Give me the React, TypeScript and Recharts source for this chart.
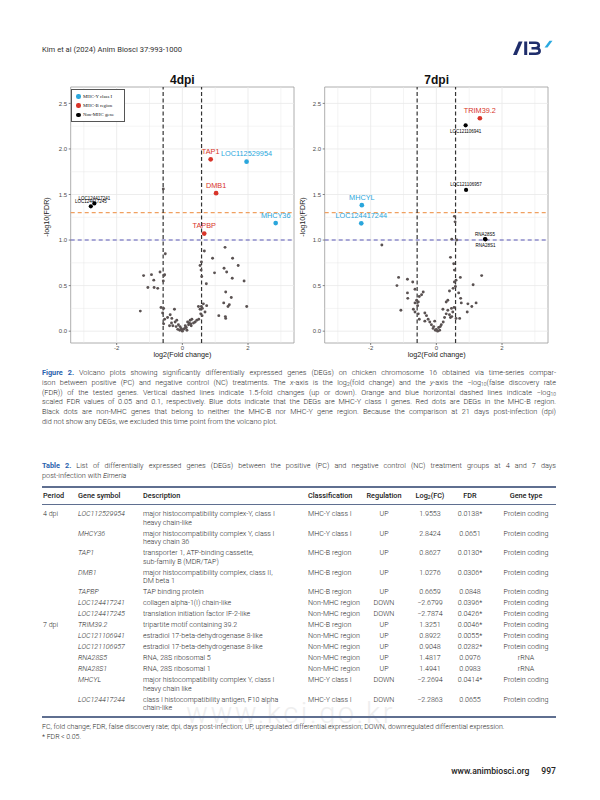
import React from 'react';
import { ScatterChart, Scatter, XAxis, YAxis, ReferenceLine, ReferenceArea } from 'recharts';

const BODY = 'Roboto, "Noto Sans", sans-serif';
const PLOT_FONT = '"Liberation Sans", Arial, sans-serif';
const C_MHCY = '#2AA6DC';
const C_MHCB = '#D8352A';
const C_NON = '#000000';
const C_BG = '#5a5252';
const C_LINK = '#2a62ad';
const C_TEXT = '#2a2a2a';
const C_RULE = '#5f6f90';

// ---------- DEGs at 4 dpi (Table 2) ----------
const deg4Symbols = ['LOC112529954', 'MHCY36', 'TAP1', 'DMB1', 'TAPBP', 'LOC124417241', 'LOC124417245'];
const deg4LogFC = [1.9553, 2.8424, 0.8627, 1.0276, 0.6659, -2.6799, -2.7874];
const deg4FDR = [0.0138, 0.0651, 0.013, 0.0306, 0.0848, 0.0396, 0.0426];
const deg4Class = ['MHC-Y class I', 'MHC-Y class I', 'MHC-B region', 'MHC-B region', 'MHC-B region', 'Non-MHC region', 'Non-MHC region'];
const deg4Type = ['Protein coding', 'Protein coding', 'Protein coding', 'Protein coding', 'Protein coding', 'Protein coding', 'Protein coding'];
const deg4Desc = [
  ['major histocompatibility complex-Y, class I', 'heavy chain-like'],
  ['major histocompatibility complex Y, class I', 'heavy chain 36'],
  ['transporter 1, ATP-binding cassette,', 'sub-family B (MDR/TAP)'],
  ['major histocompatibility complex, class II,', 'DM beta 1'],
  ['TAP binding protein'],
  ['collagen alpha-1(I) chain-like'],
  ['translation initiation factor IF-2-like'],
];

// ---------- DEGs at 7 dpi (Table 2) ----------
const deg7Symbols = ['TRIM39.2', 'LOC121106941', 'LOC121106957', 'RNA28S5', 'RNA28S1', 'MHCYL', 'LOC124417244'];
const deg7LogFC = [1.3251, 0.8922, 0.9048, 1.4817, 1.4941, -2.2694, -2.2863];
const deg7FDR = [0.0046, 0.0055, 0.0282, 0.0976, 0.0983, 0.0414, 0.0655];
const deg7Class = ['MHC-B region', 'Non-MHC region', 'Non-MHC region', 'Non-MHC region', 'Non-MHC region', 'MHC-Y class I', 'MHC-Y class I'];
const deg7Type = ['Protein coding', 'Protein coding', 'Protein coding', 'rRNA', 'rRNA', 'Protein coding', 'Protein coding'];
const deg7Desc = [
  ['tripartite motif containing 39.2'],
  ['estradiol 17-beta-dehydrogenase 8-like'],
  ['estradiol 17-beta-dehydrogenase 8-like'],
  ['RNA, 28S ribosomal 5'],
  ['RNA, 28S ribosomal 1'],
  ['major histocompatibility complex Y, class I', 'heavy chain like'],
  ['class I histocompatibility antigen, F10 alpha', 'chain-like'],
];

// ---------- non-significant genes (log2FC, -log10 FDR) ----------
const bg4dpi: [number, number][] = [
  [-0.58, 1.56], [-0.52, 0.85], [0.67, 0.88], [1.3, 0.92], [0.92, 0.8], [1.53, 0.8], [0.54, 0.72], [1.7, 0.72],
  [0.98, 0.64], [1.27, 0.69], [1.35, 0.65], [1.52, 0.58], [1.88, 0.55], [0.59, 0.6], [0.73, 0.52], [-1.18, 0.61],
  [-0.94, 0.62], [-0.87, 0.56], [-0.68, 0.65], [-0.54, 0.62], [-0.58, 0.55], [-1.05, 0.48], [-0.86, 0.48], [-0.75, 0.47],
  [1.32, 0.43], [1.49, 0.37], [1.26, 0.31], [1.43, 0.29], [1.39, 0.27], [1.96, 0.27], [-1.28, 0.22], [1.11, 0.17],
  [1.31, 0.16], [1.32, 0.14], [-0.65, 0.26], [-0.57, 0.25], [-0.24, 0.24], [0.49, 0.27], [0.54, 0.24], [0.61, 0.25],
  [0.74, 0.28], [0.69, 0.21], [0.6, 0.17], [-0.37, 0.18], [-0.32, 0.14], [-0.54, 0.13], [-0.57, 0.08], [-0.39, 0.06],
  [-0.17, 0.12], [-0.12, 0.07], [-0.07, 0.05], [-0.02, 0.02], [0.04, 0.02], [0.12, 0.04], [0.19, 0.07], [0.24, 0.12],
  [0.29, 0.13], [0.39, 0.1], [0.44, 0.12], [-0.22, 0.1], [-0.29, 0.06], [0.09, 0.06], [0.16, 0.1], [0.34, 0.09],
  [-0.14, 0.02], [-0.08, 0.01], [0.0, 0.0], [-0.04, 0.03], [0.07, 0.03], [0.21, 0.09], [0.26, 0.08], [-0.45, 0.15],
  [-0.6, 0.2], [0.56, 0.19], [0.5, 0.13], [-0.19, 0.05], [0.14, 0.01], [0.27, 0.06], [-0.33, 0.09], [0.58, 0.27],
  [0.64, 0.3], [0.58, 0.76], [0.57, 0.67], [-0.56, 0.61],
];

const bg7dpi: [number, number][] = [
  [-1.66, 0.945], [0.55, 1.26], [0.57, 1.2], [0.47, 1.01], [0.62, 1.0], [0.43, 0.81], [0.53, 0.74], [0.55, 0.67],
  [1.38, 0.61], [0.73, 0.59], [0.6, 0.56], [0.55, 0.54], [1.12, 0.51], [-1.15, 0.59], [-0.88, 0.57], [-0.72, 0.54],
  [-1.2, 0.5], [-0.65, 0.46], [-0.88, 0.42], [-0.4, 0.43], [-0.52, 0.38], [-0.87, 0.36], [-0.6, 0.34], [-0.55, 0.32],
  [-0.65, 0.31], [-1.08, 0.23], [-0.7, 0.24], [-0.65, 0.21], [-0.55, 0.19], [-0.35, 0.2], [-0.3, 0.17], [-0.52, 0.13],
  [-0.25, 0.13], [-0.2, 0.1], [-0.15, 0.07], [-0.08, 0.05], [0.0, 0.02], [0.07, 0.04], [0.15, 0.07], [0.21, 0.1],
  [0.25, 0.15], [0.3, 0.19], [0.2, 0.24], [0.35, 0.23], [0.4, 0.18], [0.43, 0.15], [0.47, 0.16], [0.5, 0.21],
  [0.46, 0.25], [0.54, 0.26], [0.6, 0.14], [0.71, 0.14], [0.76, 0.31], [0.74, 0.36], [0.68, 0.42], [0.4, 0.44],
  [0.35, 0.34], [0.3, 0.32], [0.96, 0.3], [1.08, 0.27], [1.21, 0.31], [0.94, 0.21], [0.51, 0.47], [0.58, 0.49],
  [-0.45, 0.4], [-0.57, 0.28], [-0.35, 0.11], [-0.05, 0.11], [0.1, 0.01], [-0.1, 0.03], [0.04, 0.0], [-0.03, 0.01],
  [0.12, 0.05],
];

// axis ticks & reference thresholds
const xTicks = [-2, 0, 2];
const yTicks = [0, 0.5, 1, 1.5, 2, 2.5];
const gridX = [-3, -2, -1, 0, 1, 2, 3];
const gridY = [0, 0.25, 0.5, 0.75, 1, 1.25, 1.5, 1.75, 2, 2.25, 2.5];
const foldCut = 1.5;
const fdrCuts = [0.05, 0.1];
const X_DOMAIN: [number, number] = [-3.4, 3.4];
const Y_DOMAIN: [number, number] = [-0.13, 2.68];

const legendLabels = ['MHC-Y class I', 'MHC-B region', 'Non-MHC gene'];
const labelsBelow = ['LOC121106941', 'RNA28S1'];

const classColor = (c: string) => (c === 'MHC-Y class I' ? C_MHCY : c === 'MHC-B region' ? C_MHCB : C_NON);

const bgShape = (p: any) => <circle cx={p.cx} cy={p.cy} r={1.45} fill={C_BG} />;

const degShape = (p: any) => {
  const d = p.payload;
  const col = classColor(d.cls);
  const big = d.cls !== 'Non-MHC region';
  const below = labelsBelow.includes(d.sym);
  const off = big ? -7.8 : below ? 6.3 : -5;
  return (
    <g>
      <circle cx={p.cx} cy={p.cy} r={big ? 2.35 : 2.1} fill={col} />
      <text
        x={p.cx}
        y={p.cy + off}
        textAnchor="middle"
        dominantBaseline="central"
        fontSize={big ? 7.3 : 4.5}
        fontFamily={PLOT_FONT}
        fill={col}
      >
        {d.sym}
      </text>
    </g>
  );
};

type VolcanoProps = {
  left: number;
  title: string;
  bg: [number, number][];
  syms: string[];
  fcs: number[];
  fdrs: number[];
  classes: string[];
  legend?: boolean;
  yTitleX: number;
};

const CH_W = 270;
const CH_H = 295;
const PL_LEFT = 40.7;
const PL_TOP = 17;
const PL_W = 223.3;
const PL_H = 256;

function Volcano({ left, title, bg, syms, fcs, fdrs, classes, legend, yTitleX }: VolcanoProps) {
  const bgPts = bg.map(([x, y]) => ({ x, y }));
  const degPts = syms.map((s, i) => ({ x: fcs[i], y: -Math.log10(fdrs[i]), sym: s, cls: classes[i] }));
  const fc = Math.log2(foldCut);
  return (
    <div style={{ position: 'absolute', left, top: 70, width: CH_W, height: CH_H }}>
      <ScatterChart width={CH_W} height={CH_H} margin={{ top: PL_TOP, right: CH_W - PL_LEFT - PL_W, bottom: 0, left: 0 }}>
        <XAxis
          type="number"
          dataKey="x"
          domain={X_DOMAIN}
          allowDataOverflow
          ticks={xTicks}
          height={CH_H - PL_TOP - PL_H}
          tickSize={2}
          tickMargin={1}
          axisLine={false}
          tickLine={{ stroke: '#333', strokeWidth: 0.6 }}
          tick={{ fontSize: 6, fill: '#4d4d4d', fontFamily: PLOT_FONT }}
        />
        <YAxis
          type="number"
          dataKey="y"
          domain={Y_DOMAIN}
          allowDataOverflow
          ticks={yTicks}
          width={PL_LEFT}
          tickSize={2}
          tickMargin={1.5}
          axisLine={false}
          tickFormatter={(v: number) => v.toFixed(1)}
          tickLine={{ stroke: '#333', strokeWidth: 0.6 }}
          tick={{ fontSize: 6, fill: '#4d4d4d', fontFamily: PLOT_FONT }}
        />
        {gridX.map((g) => (
          <ReferenceLine key={'gx' + g} x={g} stroke="#e8e8e8" strokeWidth={g % 2 === 0 ? 0.8 : 0.5} />
        ))}
        {gridY.map((g) => (
          <ReferenceLine key={'gy' + g} y={g} stroke="#e8e8e8" strokeWidth={(g * 2) % 1 === 0 ? 0.8 : 0.5} />
        ))}
        <ReferenceLine y={-Math.log10(fdrCuts[0])} stroke="#F0A060" strokeWidth={1.1} strokeDasharray="4 3" />
        <ReferenceLine y={-Math.log10(fdrCuts[1])} stroke="#5a58b8" strokeWidth={1.1} strokeDasharray="4 3" />
        <ReferenceLine x={-fc} stroke="#333" strokeWidth={1.2} strokeDasharray="4 2.5" />
        <ReferenceLine x={fc} stroke="#333" strokeWidth={1.2} strokeDasharray="4 2.5" />
        <Scatter data={bgPts} shape={bgShape} isAnimationActive={false} />
        <Scatter data={degPts} shape={degShape} isAnimationActive={false} />
        <ReferenceArea
          x1={X_DOMAIN[0]}
          x2={X_DOMAIN[1]}
          y1={Y_DOMAIN[0]}
          y2={Y_DOMAIN[1]}
          fill="none"
          fillOpacity={0}
          stroke="#9a9a9a"
          strokeWidth={0.8}
        />
      </ScatterChart>
      <div
        style={{
          position: 'absolute',
          left: PL_LEFT + PL_W / 2 - 40,
          width: 80,
          top: 3,
          textAlign: 'center',
          fontFamily: PLOT_FONT,
          fontWeight: 700,
          fontSize: 12,
          lineHeight: '14px',
          color: '#111',
        }}
      >
        {title}
      </div>
      <div
        style={{
          position: 'absolute',
          left: PL_LEFT + PL_W / 2 - 50,
          width: 100,
          top: 280,
          textAlign: 'center',
          fontFamily: PLOT_FONT,
          fontSize: 7.2,
          lineHeight: '10px',
          color: '#222',
        }}
      >
        log2(Fold change)
      </div>
      <div
        style={{
          position: 'absolute',
          left: yTitleX - 30,
          width: 60,
          top: PL_TOP + PL_H / 2 - 5 + 2,
          textAlign: 'center',
          fontFamily: PLOT_FONT,
          fontSize: 7.2,
          lineHeight: '10px',
          color: '#222',
          transform: 'rotate(-90deg)',
        }}
      >
        -log10(FDR)
      </div>
      {legend && (
        <div
          style={{
            position: 'absolute',
            left: PL_LEFT + 0.5,
            top: PL_TOP + 2,
            width: 54,
            height: 33,
            border: '0.8px solid #555',
            background: '#fff',
            boxSizing: 'border-box',
          }}
        >
          {legendLabels.map((l, i) => (
            <div
              key={l}
              style={{
                position: 'absolute',
                left: 4,
                top: 3 + i * 9.2,
                height: 8,
                lineHeight: '8px',
                fontFamily: '"Liberation Serif", "DejaVu Serif", serif',
                fontSize: 4.8,
                color: '#111',
                whiteSpace: 'nowrap',
              }}
            >
              <span
                style={{
                  display: 'inline-block',
                  width: 4.4,
                  height: 4.4,
                  borderRadius: '50%',
                  background: [C_MHCY, C_MHCB, C_NON][i],
                  marginRight: 2.4,
                  verticalAlign: '-0.6px',
                }}
              />
              {l}
            </div>
          ))}
        </div>
      )}
    </div>
  );
}

// ---------- page helpers ----------
const Line = ({ y, children, last, size = 7.3, left = 42, width = 514 }: any) => (
  <div
    style={{
      position: 'absolute',
      left,
      width,
      top: y - 5,
      height: 10,
      lineHeight: '10px',
      fontSize: size,
      textAlign: 'justify',
      textAlignLast: last ? 'left' : 'justify',
      fontWeight: 300,
      color: C_TEXT,
    }}
  >
    {children}
  </div>
);

const Cell = ({ x, y, align, children, style }: any) => {
  const base: any = {
    position: 'absolute',
    top: y - 5,
    height: 10,
    lineHeight: '10px',
    whiteSpace: 'nowrap',
    fontSize: 7.1,
    fontWeight: 300,
    color: C_TEXT,
    ...style,
  };
  if (align === 'center') {
    base.left = x - 40;
    base.width = 80;
    base.textAlign = 'center';
  } else {
    base.left = x;
  }
  return <div style={base}>{children}</div>;
};

const Sub = ({ children }: any) => (
  <span style={{ fontSize: '0.68em', verticalAlign: '-0.25em' }}>{children}</span>
);

const COL = { period: 43, gene: 78, desc: 143, cls: 308, reg: 384, fc: 430, fdr: 470, type: 526 };

const fmtFC = (v: number) => (v < 0 ? '\u2212' : '') + Math.abs(v).toFixed(4);
const fmtFDR = (v: number) => v.toFixed(4) + (v < 0.05 ? '*' : '');

export default function App() {
  const rows = [
    ...deg4Symbols.map((s, i) => ({
      period: i === 0 ? '4 dpi' : '',
      sym: s,
      desc: deg4Desc[i],
      cls: deg4Class[i],
      fc: deg4LogFC[i],
      fdr: deg4FDR[i],
      type: deg4Type[i],
    })),
    ...deg7Symbols.map((s, i) => ({
      period: i === 0 ? '7 dpi' : '',
      sym: s,
      desc: deg7Desc[i],
      cls: deg7Class[i],
      fc: deg7LogFC[i],
      fdr: deg7FDR[i],
      type: deg7Type[i],
    })),
  ];
  let top = 508.5;
  const rowEls = rows.map((r, idx) => {
    const c = top + 5.5;
    top += 11 + (r.desc.length - 1) * 8.5;
    return (
      <React.Fragment key={idx}>
        <Cell x={COL.period} y={c}>{r.period}</Cell>
        <Cell x={COL.gene} y={c} style={{ fontStyle: 'italic' }}>{r.sym}</Cell>
        {r.desc.map((d: string, k: number) => (
          <Cell key={k} x={COL.desc} y={c + k * 8.5}>{d}</Cell>
        ))}
        <Cell x={COL.cls} y={c}>{r.cls}</Cell>
        <Cell x={COL.reg} y={c} align="center">{r.fc > 0 ? 'UP' : 'DOWN'}</Cell>
        <Cell x={COL.fc} y={c} align="center">{fmtFC(r.fc)}</Cell>
        <Cell x={COL.fdr} y={c} align="center">{fmtFDR(r.fdr)}</Cell>
        <Cell x={COL.type} y={c} align="center">{r.type}</Cell>
      </React.Fragment>
    );
  });
  const tableBottom = top + 2.5;
  const hdr = { fontWeight: 500, color: '#1a1a1a', fontSize: 7.3 };

  return (
    <div
      style={{
        position: 'absolute',
        left: 0,
        top: 0,
        width: 600,
        height: 800,
        background: '#fff',
        overflow: 'hidden',
        fontFamily: BODY,
      }}
    >
      {/* watermark */}
      <div
        style={{
          position: 'absolute',
          left: 186,
          top: 696,
          fontSize: 29,
          lineHeight: '34px',
          fontWeight: 300,
          color: '#eeeeee',
          letterSpacing: 2.5,
          whiteSpace: 'nowrap',
        }}
      >
        www.kci.go.kr
      </div>

      {/* running head */}
      <div
        style={{
          position: 'absolute',
          left: 42,
          top: 45,
          lineHeight: '10px',
          fontSize: 7.6,
          fontWeight: 400,
          color: '#333',
          whiteSpace: 'nowrap',
        }}
      >
        Kim et al (2024) Anim Biosci 37:993-1000
      </div>
      <svg style={{ position: 'absolute', left: 510, top: 40 }} width={46} height={16} viewBox="0 0 46 16">
        <polygon points="3,15 6.8,15 12.5,1.5 8.7,1.5" fill="#1f2d6b" />
        <rect x={14.2} y={1.5} width={3} height={13.5} fill="#1f2d6b" />
        <path
          d="M19,2.8 H25.2 C30,2.8 30,8.2 25.2,8.2 H21.5 M21.5,8.2 H25.6 C31,8.2 31,13.7 25.6,13.7 H19"
          stroke="#1f2d6b"
          strokeWidth={2.6}
          fill="none"
        />
        <polygon points="34.5,7.5 37.5,7.5 42.5,0.8 39.5,0.8" fill="#29a9e0" />
      </svg>

      {/* plots */}
      <Volcano
        left={30}
        title="4dpi"
        bg={bg4dpi}
        syms={deg4Symbols}
        fcs={deg4LogFC}
        fdrs={deg4FDR}
        classes={deg4Class}
        legend
        yTitleX={17}
      />
      <Volcano
        left={284.3}
        title="7dpi"
        bg={bg7dpi}
        syms={deg7Symbols}
        fcs={deg7LogFC}
        fdrs={deg7FDR}
        classes={deg7Class}
        yTitleX={19}
      />

      {/* figure caption */}
      <Line y={373}>
        <b style={{ color: C_LINK, fontWeight: 700 }}>Figure 2.</b> Volcano plots showing significantly differentially
        expressed genes (DEGs) on chicken chromosome 16 obtained via time-series compar-
      </Line>
      <Line y={382.8}>
        ison between positive (PC) and negative control (NC) treatments. The <i>x</i>-axis is the log<Sub>2</Sub>(fold
        change) and the <i>y</i>-axis the {'\u2212'}log<Sub>10</Sub>(false discovery rate
      </Line>
      <Line y={392.6}>
        (FDR)) of the tested genes. Vertical dashed lines indicate 1.5-fold changes (up or down). Orange and blue
        horizontal dashed lines indicate {'\u2212'}log<Sub>10</Sub>
      </Line>
      <Line y={402.4}>
        scaled FDR values of 0.05 and 0.1, respectively. Blue dots indicate that the DEGs are MHC-Y class I genes. Red
        dots are DEGs in the MHC-B region.
      </Line>
      <Line y={412.2}>
        Black dots are non-MHC genes that belong to neither the MHC-B nor MHC-Y gene region. Because the comparison at
        21 days post-infection (dpi)
      </Line>
      <Line y={422} last>
        did not show any DEGs, we excluded this time point from the volcano plot.
      </Line>

      {/* table caption */}
      <Line y={466}>
        <b style={{ color: C_LINK, fontWeight: 700 }}>Table 2.</b> List of differentially expressed genes (DEGs) between
        the positive (PC) and negative control (NC) treatment groups at 4 and 7 days
      </Line>
      <Line y={476} last>
        post-infection with <i>Eimeria</i>
      </Line>

      {/* table */}
      <div style={{ position: 'absolute', left: 42, width: 514, top: 486, height: 2, background: C_RULE }} />
      <Cell x={COL.period} y={496} style={hdr}>Period</Cell>
      <Cell x={COL.gene} y={496} style={hdr}>Gene symbol</Cell>
      <Cell x={COL.desc} y={496} style={hdr}>Description</Cell>
      <Cell x={COL.cls} y={496} style={hdr}>Classification</Cell>
      <Cell x={COL.reg} y={496} align="center" style={hdr}>Regulation</Cell>
      <Cell x={COL.fc} y={496} align="center" style={hdr}>
        Log<Sub>2</Sub>(FC)
      </Cell>
      <Cell x={COL.fdr} y={496} align="center" style={hdr}>FDR</Cell>
      <Cell x={COL.type} y={496} align="center" style={hdr}>Gene type</Cell>
      <div style={{ position: 'absolute', left: 42, width: 514, top: 503.5, height: 0.8, background: C_RULE }} />
      {rowEls}
      <div style={{ position: 'absolute', left: 42, width: 514, top: tableBottom, height: 2, background: C_RULE }} />

      {/* footnotes */}
      <Cell x={42} y={tableBottom + 11} style={{ fontSize: 7 }}>
        FC, fold change; FDR, false discovery rate; dpi, days post-infection; UP, upregulated differential expression;
        DOWN, downregulated differential expression.
      </Cell>
      <Cell x={42} y={tableBottom + 20.5} style={{ fontSize: 7 }}>
        * FDR{'\u2009'}&lt;{'\u2009'}0.05.
      </Cell>

      {/* footer */}
      <div
        style={{
          position: 'absolute',
          left: 380,
          width: 176,
          top: 765,
          lineHeight: '12px',
          textAlign: 'right',
          fontSize: 8.6,
          fontWeight: 500,
          color: '#222',
          whiteSpace: 'nowrap',
        }}
      >
        www.animbiosci.org<span style={{ display: 'inline-block', width: 12 }} />997
      </div>
    </div>
  );
}
